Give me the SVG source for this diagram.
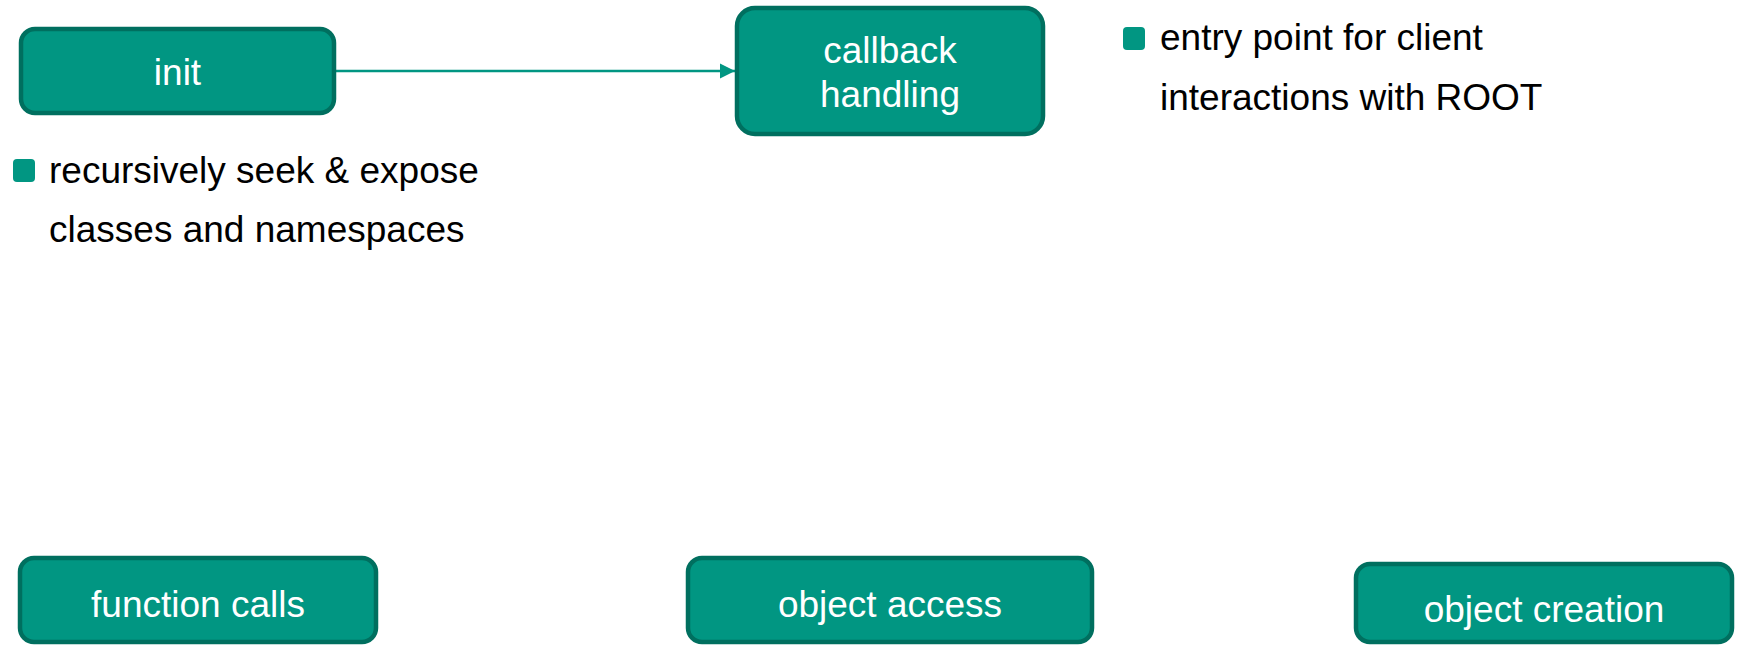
<svg xmlns="http://www.w3.org/2000/svg" width="1738" height="646" viewBox="0 0 1738 646">
<defs>
<style>
.box{fill:#019682;stroke:#006f5f;stroke-width:4.5}
.lbl{font-family:"Liberation Sans",Arial,sans-serif;font-size:37px;fill:#ffffff;text-anchor:middle}
.txt{font-family:"Liberation Sans",Arial,sans-serif;font-size:37px;fill:#000000}
.bul{fill:#019682}
.conn{stroke:#019682;stroke-width:2.5;fill:none}
</style>
<marker id="arr" markerUnits="userSpaceOnUse" markerWidth="16" markerHeight="16" refX="15" refY="8" orient="auto">
<path d="M0,0.5 L15,8 L0,15.5 Z" fill="#019682"/>
</marker>
</defs>
<rect width="1738" height="646" fill="#ffffff"/>
<g id="connectors">
<line class="conn" x1="336" y1="71" x2="735" y2="71" marker-end="url(#arr)"/>
</g>
<g id="node-init">
<rect class="box" x="21" y="29" width="313" height="84" rx="14"/>
<text class="lbl" x="177.5" y="85">init</text>
</g>
<g id="node-callback">
<rect class="box" x="737" y="8" width="306" height="126" rx="18"/>
<text class="lbl" x="890" y="63">callback</text>
<text class="lbl" x="890" y="107">handling</text>
</g>
<g id="note-init">
<rect class="bul" x="13" y="159" width="22" height="23" rx="4"/>
<text class="txt" x="49" y="183">recursively seek &amp; expose</text>
<text class="txt" x="49" y="242">classes and namespaces</text>
</g>
<g id="note-callback">
<rect class="bul" x="1123" y="27" width="22" height="23" rx="4"/>
<text class="txt" x="1160" y="50">entry point for client</text>
<text class="txt" x="1160" y="110">interactions with ROOT</text>
</g>
<g id="node-function-calls">
<rect class="box" x="20" y="558" width="356" height="84" rx="14"/>
<text class="lbl" x="198" y="617">function calls</text>
</g>
<g id="node-object-access">
<rect class="box" x="688" y="558" width="404" height="84" rx="14"/>
<text class="lbl" x="890" y="617">object access</text>
</g>
<g id="node-object-creation">
<rect class="box" x="1356" y="564" width="376" height="78" rx="14"/>
<text class="lbl" x="1544" y="622">object creation</text>
</g>
</svg>
